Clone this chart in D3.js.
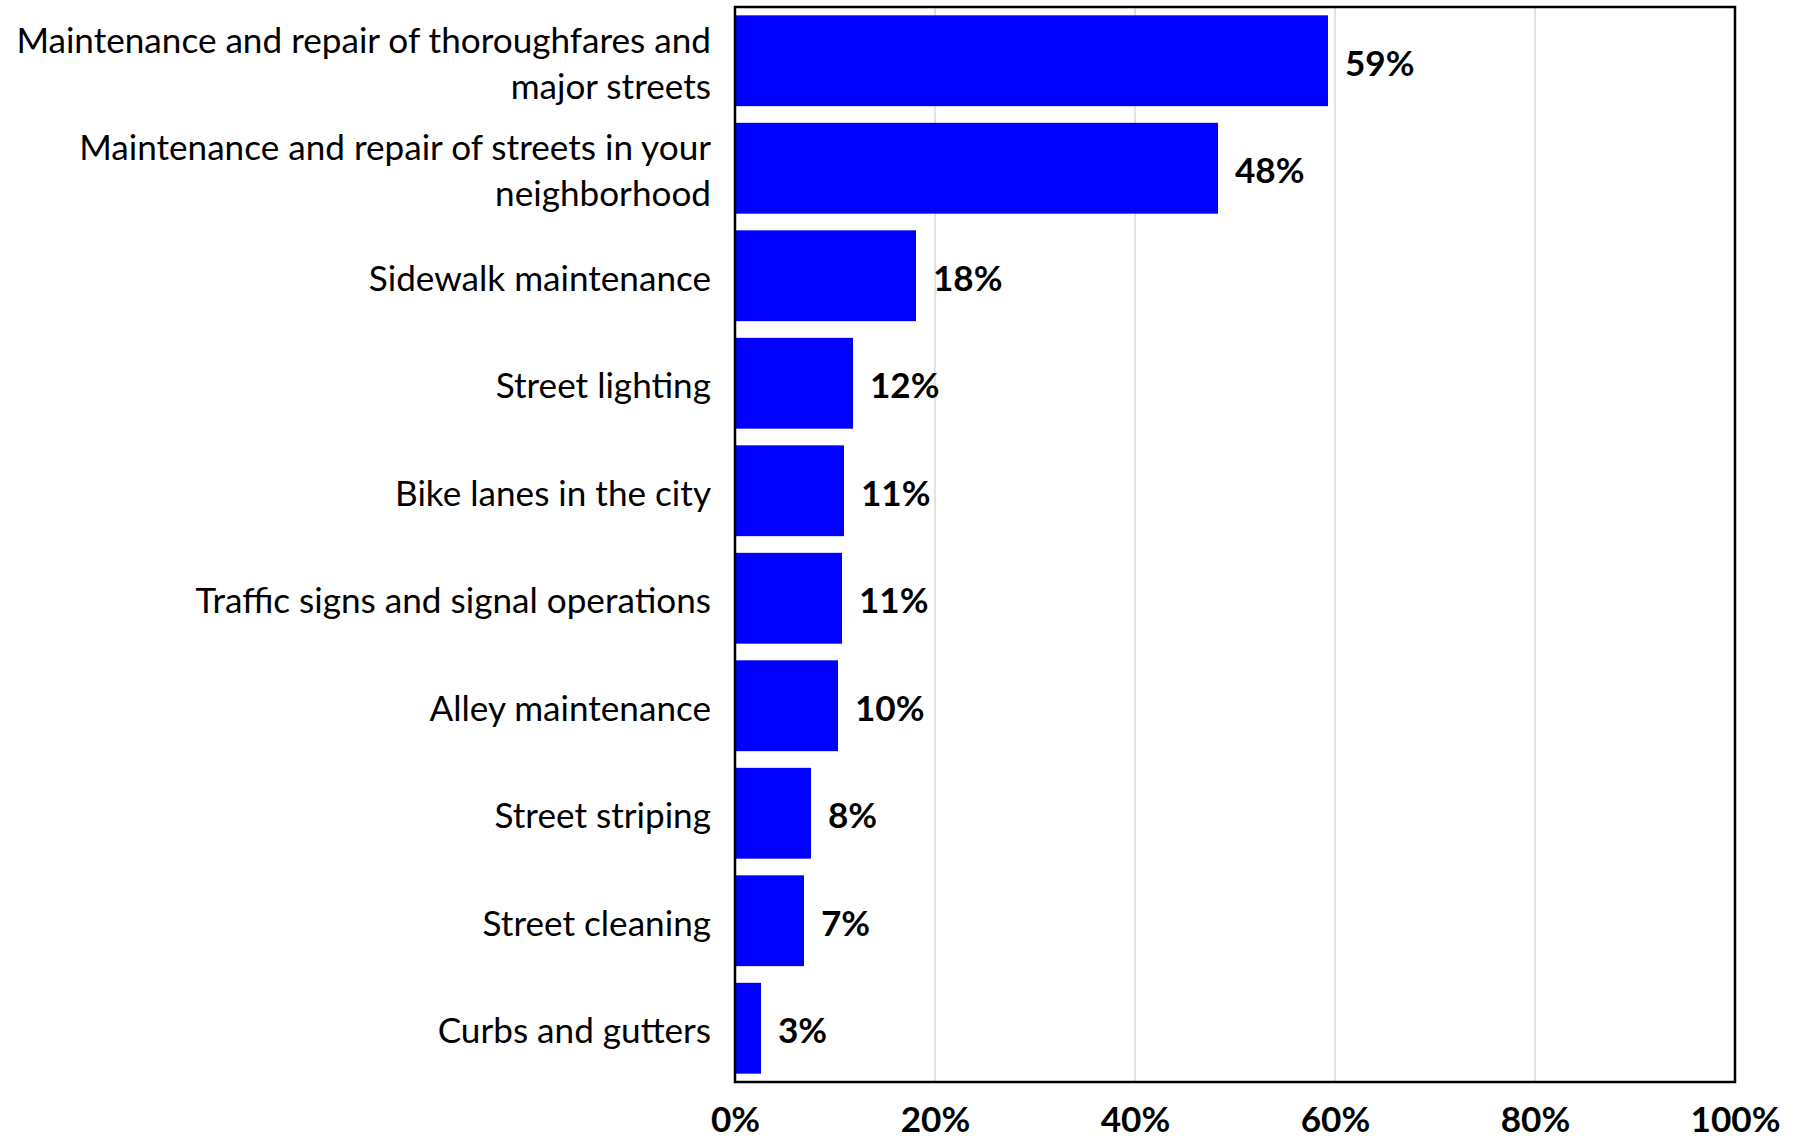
<!DOCTYPE html>
<html>
<head>
<meta charset="utf-8">
<script src="https://cdn.jsdelivr.net/npm/d3@7"></script>
<style>
  html, body { margin: 0; padding: 0; background: #fff; }
  svg { display: block; }
  text { font-family: Lato, "Open Sans", "Noto Sans", sans-serif; fill: #000; }
</style>
</head>
<body>
<svg id="chart" width="1796" height="1138"></svg>
<script>
// Share of respondents naming each street service (percent)
const categories = [
  "Maintenance and repair of thoroughfares and\nmajor streets",
  "Maintenance and repair of streets in your\nneighborhood",
  "Sidewalk maintenance",
  "Street lighting",
  "Bike lanes in the city",
  "Traffic signs and signal operations",
  "Alley maintenance",
  "Street striping",
  "Street cleaning",
  "Curbs and gutters"
];
const values = [59.3, 48.3, 18.1, 11.8, 10.9, 10.7, 10.3, 7.6, 6.9, 2.6];
const xTicks = [0, 20, 40, 60, 80, 100];

const data = categories.map((c, i) => ({ label: c, value: values[i] }));

const svg = d3.select("#chart");
const margin = { top: 7, left: 735 };
const width = 1000, height = 1075;

const x = d3.scaleLinear().domain([0, 100]).range([0, width]);
const y = d3.scaleBand()
  .domain(data.map(d => d.label))
  .range([0, height])
  .paddingInner(0.155)
  .paddingOuter(0.0775);

const g = svg.append("g").attr("transform", `translate(${margin.left},${margin.top})`);

// Work out a label size so the longest category line spans ~695px
const probe = svg.append("text").attr("font-size", 36)
  .text("Maintenance and repair of thoroughfares and");
const probeW = probe.node().getComputedTextLength();
probe.remove();
const fs = Math.min(36, 36 * 695 / probeW);
const lineH = 46;

// vertical gridlines
g.append("g").selectAll("line")
  .data(xTicks.filter(t => t > 0 && t < 100))
  .join("line")
  .attr("x1", d => x(d)).attr("x2", d => x(d))
  .attr("y1", 0).attr("y2", height)
  .attr("stroke", "#d9d9d9")
  .attr("stroke-width", 1.5);

// bars
g.append("g").selectAll("rect")
  .data(data)
  .join("rect")
  .attr("x", 0)
  .attr("y", d => y(d.label))
  .attr("width", d => x(d.value))
  .attr("height", y.bandwidth())
  .attr("fill", "#0000ff");

// value labels
g.append("g").selectAll("text")
  .data(data)
  .join("text")
  .attr("x", d => x(d.value) + 17)
  .attr("y", d => y(d.label) + y.bandwidth() / 2)
  .attr("dy", "0.42em")
  .attr("font-size", fs)
  .attr("font-weight", "bold")
  .text(d => Math.round(d.value) + "%");

// category labels (right-aligned, possibly two lines)
const cat = g.append("g").selectAll("text")
  .data(data)
  .join("text")
  .attr("text-anchor", "end")
  .attr("font-size", fs)
  .attr("transform", d => `translate(-24,${y(d.label) + y.bandwidth() / 2})`);
cat.each(function (d) {
  const lines = d.label.split("\n");
  const t = d3.select(this);
  const off = -(lines.length - 1) * lineH / 2;
  lines.forEach((ln, i) => {
    t.append("tspan")
      .attr("x", 0)
      .attr("y", off + i * lineH)
      .attr("dy", "0.42em")
      .text(ln);
  });
});

// x axis tick labels
const xAxis = d3.axisBottom(x)
  .tickValues(xTicks)
  .tickSize(0)
  .tickPadding(0)
  .tickFormat(d => d + "%");
const ax = g.append("g")
  .attr("transform", `translate(0,${height})`)
  .call(xAxis);
ax.select(".domain").remove();
ax.selectAll("text")
  .attr("y", 50)
  .attr("dy", 0)
  .attr("font-size", fs)
  .attr("font-weight", "bold")
  .attr("font-family", null);

// plot frame
g.append("rect")
  .attr("x", 0).attr("y", 0)
  .attr("width", width).attr("height", height)
  .attr("fill", "none")
  .attr("stroke", "#000")
  .attr("stroke-width", 2.5);
</script>
</body>
</html>
